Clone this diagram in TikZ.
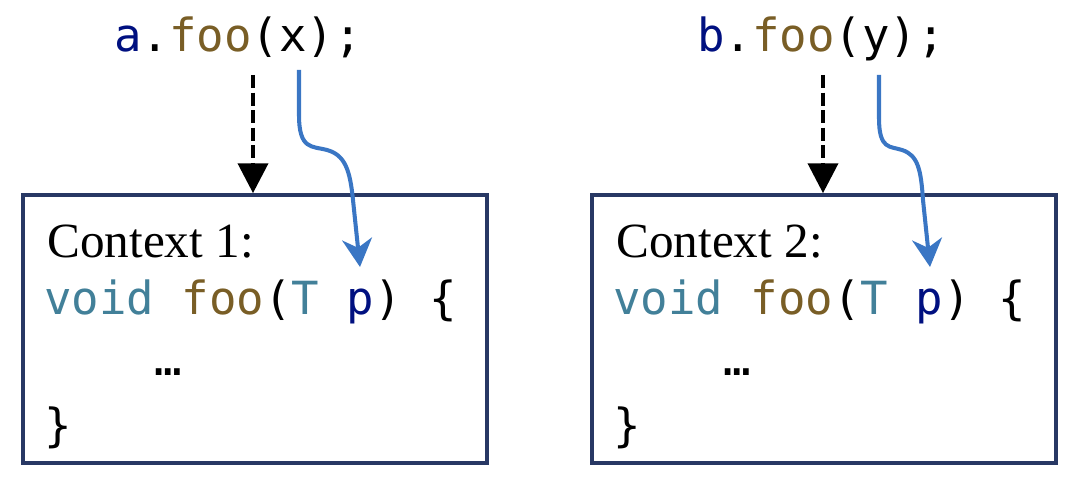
\documentclass[tikz,border=0pt]{standalone}
\usepackage{fontspec}
\setmainfont{Liberation Serif}
\setmonofont{DejaVu Sans Mono}
\usetikzlibrary{arrows.meta}

\definecolor{boxnavy}{RGB}{40,56,100}
\definecolor{callblue}{RGB}{58,118,196}
\definecolor{varnavy}{HTML}{001080}
\definecolor{fnbrown}{HTML}{795E26}
\definecolor{typeteal}{RGB}{66,128,153}

\newcommand{\codevar}[1]{\textcolor{varnavy}{#1}}
\newcommand{\codefn}[1]{\textcolor{fnbrown}{#1}}
\newcommand{\codetype}[1]{\textcolor{typeteal}{#1}}

\tikzset{
  ctxbox/.style = {draw = boxnavy, line width = 2.1pt, minimum width = 9.28cm, minimum height = 5.36cm},
  code/.style = {inner sep = 0pt, anchor = base west, font = \fontsize{26}{31}\selectfont\ttfamily},
  ctxtitle/.style = {inner sep = 0pt, anchor = base west, font = \fontsize{28}{33}\selectfont},
  dispatch/.style = {line width = 2.4pt, dash pattern = on 7.5pt off 2.5pt, -{Triangle[length = 17pt, width = 17pt]}},
  flow/.style = {draw = callblue, line width = 2.3pt, -{Stealth[length = 16pt, width = 17pt, inset = 5pt]}}
}

\begin{document}
\begin{tikzpicture}[x = 0.02cm, y = -0.02cm]
    \useasboundingbox (0,0) rectangle (1072,486);

    % the two calls
    \node [code] (calla) at (114,52) {\codevar{a}.\codefn{foo}(x);};
    \node [code] (callb) at (697,52) {\codevar{b}.\codefn{foo}(y);};

    % context 1
    \node [ctxbox] (ctxa) at (255,329) {};
    \node [ctxtitle] (titlea) at (47,258) {Context 1:};
    \node [code] (sigA) at (44,315) {\codetype{void} \codefn{foo}(\codetype{T} \codevar{p}) \{};
    \node [code] (bodyA) at (154,376) {…};
    \node [code] (endA) at (44,441) {\}};

    % context 2
    \node [ctxbox] (ctxb) at (824,329) {};
    \node [ctxtitle] (titleb) at (616,258) {Context 2:};
    \node [code] (sigB) at (613,315) {\codetype{void} \codefn{foo}(\codetype{T} \codevar{p}) \{};
    \node [code] (bodyB) at (723,376) {…};
    \node [code] (endB) at (613,441) {\}};

    % dispatch on the receiver
    \coordinate (recva) at (253,75);
    \coordinate (recvb) at (823,75);
    \draw [dispatch] (recva) -- (recva |- ctxa.north);
    \draw [dispatch] (recvb) -- (recvb |- ctxb.north);

    % argument flows into the parameter
    \coordinate (xa) at (299,70);
    \coordinate (pa) at (360,267);
    \draw [flow] (xa) -- (299,115) .. controls (299,150) and (312,146) .. (327,150)
        .. controls (345,155) and (350,170) .. (353,200) -- (pa);
    \coordinate (yb) at (879,75);
    \coordinate (pb) at (930,267);
    \draw [flow] (yb) -- (879,118) .. controls (879,150) and (890,146) .. (902,150)
        .. controls (918,155) and (921,170) .. (923,200) -- (pb);
\end{tikzpicture}
\end{document}
